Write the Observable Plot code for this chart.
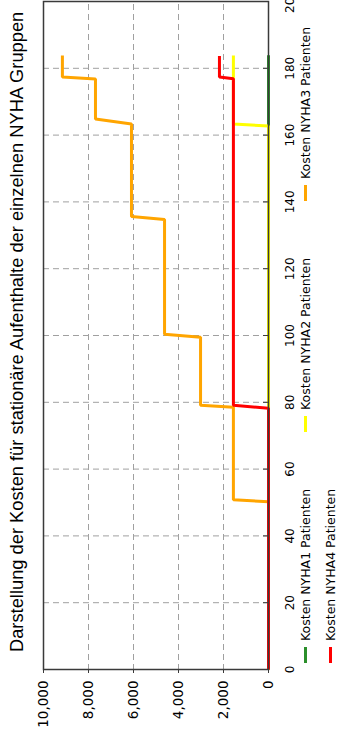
<!DOCTYPE html>
<html>
<head>
<meta charset="utf-8">
<script src="https://cdn.jsdelivr.net/npm/d3@7"></script>
<script src="https://cdn.jsdelivr.net/npm/@observablehq/plot@0.6"></script>
<style>
html, body { margin: 0; padding: 0; background: #fff; overflow: hidden; width: 338px; height: 731px; }
#rot { position: absolute; left: 0; top: 0; width: 731px; height: 338px; transform-origin: 0 0; transform: translate(0, 731px) rotate(-90deg); background: #fff; }
#title { position: absolute; left: 79px; top: 8px; font-family: "Liberation Sans", Arial, sans-serif; font-size: 18.3px; line-height: 1; white-space: nowrap; color: #000; }
#chart { position: absolute; left: 0; top: 0; }
.item { position: absolute; height: 14px; display: flex; align-items: center; font-family: "DejaVu Sans", sans-serif; font-size: 12.5px; color: #000; white-space: nowrap; }
.sw { width: 16px; height: 3px; margin-right: 6px; }
</style>
</head>
<body>
<div id="rot">
  <div id="title"></div>
  <div id="chart"></div>
  <div id="legend"></div>
</div>
<script>
// ---- data ----
const titleText = "Darstellung der Kosten für stationäre Aufenthalte der einzelnen NYHA Gruppen";
const xTicks = [0, 20, 40, 60, 80, 100, 120, 140, 160, 180, 200];
const costTicks = [0, 2000, 4000, 6000, 8000, 10000];
const seriesNames = ["Kosten NYHA1 Patienten", "Kosten NYHA2 Patienten", "Kosten NYHA3 Patienten", "Kosten NYHA4 Patienten"];

const nyha1X = [0, 183.9];
const nyha1Y = [0, 0];
const nyha2X = [0, 162.7, 163.3, 183.8];
const nyha2Y = [0, 0, 1560, 1560];
const nyha3X = [0, 50.2, 50.8, 78.5, 79.1, 99.5, 100.4, 134.7, 135.6, 163.3, 164.8, 176.8, 177.4, 183.8];
const nyha3Y = [0, 0, 1560, 1560, 3020, 3020, 4620, 4620, 6090, 6090, 7690, 7690, 9160, 9160];
const nyha4X = [0, 78.2, 79.1, 176.9, 177.4, 183.7];
const nyha4Y = [0, 0, 1560, 1560, 2180, 2180];

// ---- styles ----
const seriesColors = ["#2b8f2b", "#ffff00", "#ffa500", "#ff0000"];

const seriesXs = [nyha1X, nyha2X, nyha3X, nyha4X];
const seriesYs = [nyha1Y, nyha2Y, nyha3Y, nyha4Y];
const rows = [];
seriesNames.forEach((name, s) => {
  seriesXs[s].forEach((x, i) => rows.push({series: name, x, cost: seriesYs[s][i]}));
});

document.getElementById("title").textContent = titleText;

const grid = {stroke: "#a0a0a0", strokeOpacity: 1, strokeWidth: 1, strokeDasharray: "6,4"};

const chart = Plot.plot({
  width: 731,
  height: 295,
  marginLeft: 61,
  marginRight: 2,
  marginTop: 43,
  marginBottom: 27,
  style: {fontFamily: "DejaVu Sans, sans-serif", color: "#000", background: "transparent", overflow: "visible"},
  x: {domain: [0, 200]},
  y: {domain: [0, 10000]},
  color: {domain: seriesNames, range: seriesColors},
  marks: [
    Plot.gridX(xTicks, grid),
    Plot.gridY(costTicks, grid),
    Plot.line(rows, {x: "x", y: "cost", z: "series", stroke: "series", strokeWidth: 3, strokeLinejoin: "miter", strokeLinecap: "butt"}),
    Plot.frame({stroke: "#3a3a3a", strokeWidth: 1.5}),
    Plot.ruleX(xTicks, {x: d => d, y1: 0, y2: 0, insetBottom: 5, stroke: "#3a3a3a"}),
    Plot.axisX(xTicks, {tickSize: 0, tickPadding: 17, fontSize: 12, label: null, tickFormat: d => String(d)}),
    Plot.axisY(costTicks, {tickSize: 3, tickPadding: 8, fontSize: 13.5, label: null, tickFormat: d3.format(","), stroke: "#3a3a3a"})
  ]
});
document.getElementById("chart").appendChild(chart);

// ---- legend ----
const legendPos = [[68, 298.5], [299, 298.5], [530, 298.5], [68, 323.5]];
const legend = document.getElementById("legend");
seriesNames.forEach((name, i) => {
  const item = document.createElement("div");
  item.className = "item";
  item.style.left = legendPos[i][0] + "px";
  item.style.top = legendPos[i][1] + "px";
  const sw = document.createElement("span");
  sw.className = "sw";
  sw.style.background = seriesColors[i];
  const t = document.createElement("span");
  t.textContent = name;
  item.appendChild(sw);
  item.appendChild(t);
  legend.appendChild(item);
});
</script>
</body>
</html>
